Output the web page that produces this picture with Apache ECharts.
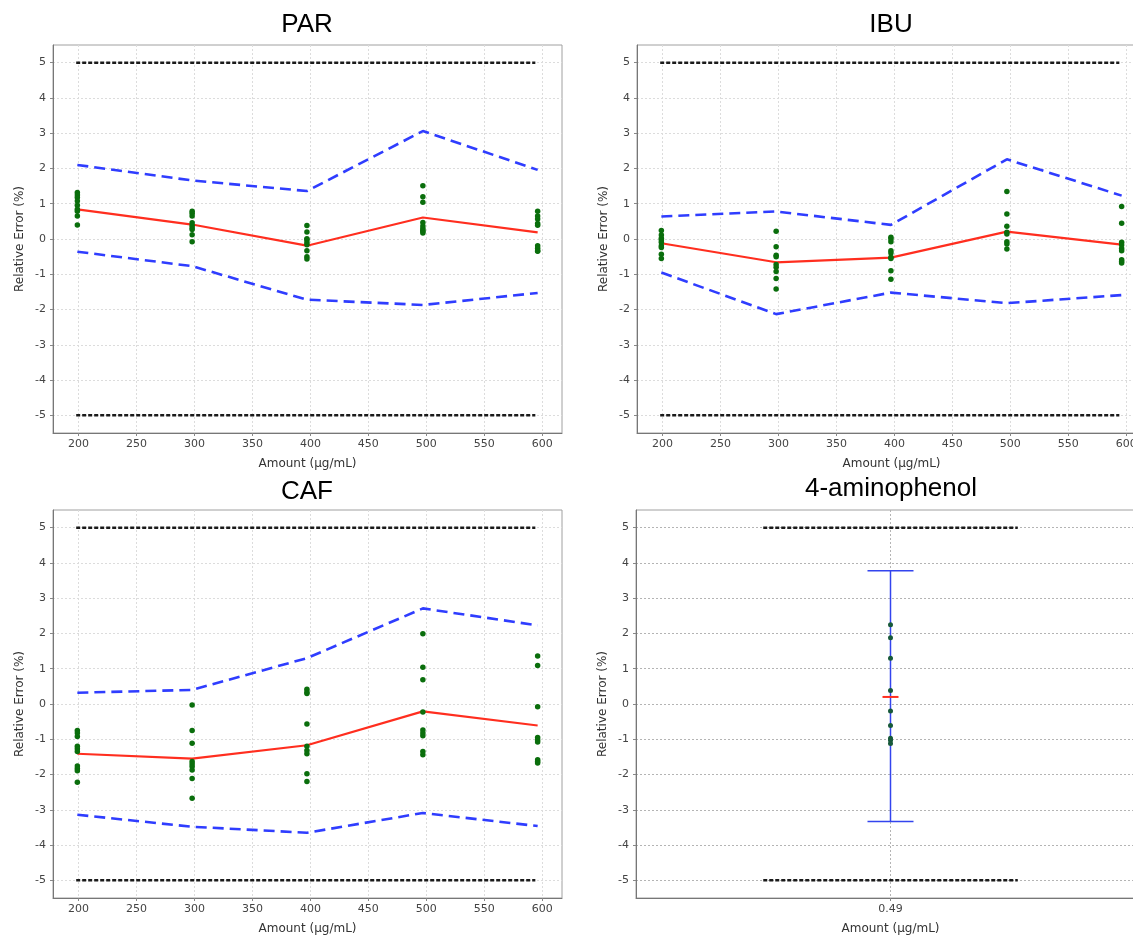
<!DOCTYPE html>
<html><head><meta charset="utf-8">
<script src="https://cdn.jsdelivr.net/npm/echarts@6/dist/echarts.min.js"></script>
<style>html,body{margin:0;padding:0;background:#fff;}#c{width:1133px;height:935px;}</style>
</head><body><div id="c"></div>
<script>
// ---------- data ----------
const titles = ['PAR', 'IBU', 'CAF', '4-aminophenol'];
const amounts = [199, 298, 397, 497, 596];
const xTicks = [200, 250, 300, 350, 400, 450, 500, 550, 600];
const yTicks = [-5, -4, -3, -2, -1, 0, 1, 2, 3, 4, 5];
const limitX = [198, 594];
const limitUp = 5;
const limitLow = -5;

const parUpper = [2.10, 1.66, 1.36, 3.06, 1.96];
const parLower = [-0.36, -0.77, -1.72, -1.87, -1.53];
const parMean  = [0.84, 0.41, -0.19, 0.61, 0.19];
const parPoints = [
  [1.32, 1.25, 1.18, 1.08, 0.96, 0.84, 0.79, 0.65, 0.40],
  [0.79, 0.73, 0.65, 0.46, 0.38, 0.32, 0.27, 0.12, -0.08],
  [0.38, 0.20, 0.01, -0.02, -0.10, -0.16, -0.33, -0.50, -0.57],
  [1.51, 1.20, 1.04, 0.47, 0.37, 0.30, 0.25, 0.21, 0.17],
  [0.79, 0.65, 0.57, 0.44, 0.39, -0.19, -0.26, -0.33, -0.35]
];

const ibuUpper = [0.64, 0.78, 0.40, 2.26, 1.23];
const ibuLower = [-0.95, -2.13, -1.52, -1.82, -1.59];
const ibuMean  = [-0.12, -0.66, -0.53, 0.21, -0.16];
const ibuPoints = [
  [0.24, 0.11, 0.02, -0.03, -0.09, -0.19, -0.24, -0.43, -0.55],
  [0.22, -0.22, -0.46, -0.50, -0.72, -0.80, -0.92, -1.12, -1.42],
  [0.05, 0.00, -0.08, -0.33, -0.40, -0.52, -0.55, -0.90, -1.14],
  [1.35, 0.71, 0.36, 0.19, 0.14, -0.08, -0.14, -0.28],
  [0.92, 0.45, -0.09, -0.17, -0.27, -0.33, -0.59, -0.64, -0.68]
];

const cafUpper = [0.32, 0.40, 1.30, 2.71, 2.23];
const cafLower = [-3.14, -3.48, -3.65, -3.09, -3.46];
const cafMean  = [-1.41, -1.55, -1.17, -0.21, -0.61];
const cafPoints = [
  [-0.75, -0.82, -0.92, -1.20, -1.27, -1.35, -1.76, -1.83, -1.89, -2.22],
  [-0.03, -0.75, -1.11, -1.63, -1.70, -1.77, -1.87, -2.11, -2.67],
  [0.42, 0.34, 0.30, -0.57, -1.20, -1.32, -1.41, -1.98, -2.20],
  [1.99, 1.04, 0.69, -0.23, -0.74, -0.82, -0.90, -1.35, -1.44],
  [1.36, 1.09, -0.08, -0.95, -1.02, -1.08, -1.58, -1.63, -1.67]
];

const apAmount = [0.49];
const apTicks = [0.49];
const apRange = [0.44, 0.54];
const apLimitX = [0.465, 0.515];
const apUpper = [3.78];
const apLower = [-3.33];
const apMean = [0.20];
const apPoints = [2.25, 1.88, 1.30, 0.38, -0.20, -0.61, -0.97, -1.03, -1.12];

// ---------- styling / layout ----------
const FONT = 'DejaVu Sans';
const grids = [
  {left: 53, top: 45}, {left: 637, top: 45},
  {left: 53, top: 510}, {left: 636, top: 510}
].map(g => Object.assign({width: 509, height: 388, show: true, borderColor: '#a0a0a0', borderWidth: 1,
  backgroundColor: '#fff', containLabel: false, outerBoundsMode: 'none'}, g));

function xAxisFor(i, min, max, ticks, gridCol) {
  return {
    type: 'value', gridIndex: i, min: min, max: max,
    name: 'Amount (µg/mL)', nameLocation: 'middle', nameGap: 25,
    nameTextStyle: {fontFamily: FONT, fontSize: 12, color: '#333'},
    axisLine: {show: true, onZero: false, lineStyle: {color: '#777', width: 1}},
    axisTick: {show: true, length: 3, customValues: ticks, lineStyle: {color: '#888'}},
    axisLabel: {show: true, customValues: ticks, margin: 6, fontFamily: FONT, fontSize: 11, color: '#444',
      formatter: v => String(v)},
    splitLine: {show: true, lineStyle: {color: gridCol, type: [2, 2], width: 1}},
    minorTick: {show: false}, minorSplitLine: {show: false}
  };
}
function yAxisFor(i, gridCol) {
  return {
    type: 'value', gridIndex: i, min: -5.5, max: 5.5,
    name: 'Relative Error (%)', nameLocation: 'middle', nameGap: 27, nameRotate: 90,
    nameTextStyle: {fontFamily: FONT, fontSize: 12, color: '#333'},
    axisLine: {show: true, onZero: false, lineStyle: {color: '#777', width: 1}},
    axisTick: {show: true, length: 3, customValues: yTicks, lineStyle: {color: '#888'}},
    axisLabel: {show: true, customValues: yTicks, margin: 7, fontFamily: FONT, fontSize: 11, color: '#444'},
    splitLine: {show: true, lineStyle: {color: gridCol, type: [2, 2], width: 1}}
  };
}

const xAxes = [
  xAxisFor(0, 178, 617, xTicks, '#dcdcdc'),
  xAxisFor(1, 178, 617, xTicks, '#dcdcdc'),
  xAxisFor(2, 178, 617, xTicks, '#dcdcdc'),
  xAxisFor(3, apRange[0], apRange[1], apTicks, '#b4b4b4')
];
const yAxes = [yAxisFor(0, '#dcdcdc'), yAxisFor(1, '#dcdcdc'), yAxisFor(2, '#dcdcdc'), yAxisFor(3, '#b4b4b4')];

const BLUE = '#2f3dff', RED = '#ff2e1f', GREEN = '#0a6e0c';
function limitSeries(i, xs) {
  return [limitUp, limitLow].map(v => ({
    type: 'line', xAxisIndex: i, yAxisIndex: i, symbol: 'none', silent: true, z: 3,
    data: [[xs[0], v], [xs[1], v]],
    lineStyle: {color: '#1a1a1a', width: 2.5, type: [4, 2]}
  }));
}
function panelSeries(i, upper, lower, mean, pts) {
  const line = (vals, color, width, type) => ({
    type: 'line', xAxisIndex: i, yAxisIndex: i, symbol: 'none', silent: true, z: 4,
    data: amounts.map((a, j) => [a, vals[j]]),
    lineStyle: {color: color, width: width, type: type, opacity: 1}
  });
  const scatter = [];
  pts.forEach((grp, j) => grp.forEach(v => scatter.push([amounts[j], v])));
  return [
    ...limitSeries(i, limitX),
    line(upper, BLUE, 2.6, [11, 6]),
    line(lower, BLUE, 2.6, [11, 6]),
    line(mean, RED, 2.2, 'solid'),
    {type: 'scatter', xAxisIndex: i, yAxisIndex: i, symbol: 'circle', symbolSize: 5.5, z: 5,
      itemStyle: {color: GREEN, opacity: 1}, data: scatter}
  ];
}

const apSeries = [
  ...limitSeries(3, apLimitX),
  {type: 'custom', xAxisIndex: 3, yAxisIndex: 3, z: 4,
    data: apAmount.map((a, j) => [a, apLower[j], apUpper[j]]),
    encode: {x: 0, y: [1, 2]},
    renderItem: (params, api) => {
      const x = api.value(0);
      const lo = api.coord([x, api.value(1)]);
      const hi = api.coord([x, api.value(2)]);
      const cap = 23;
      const st = {stroke: '#3344ee', lineWidth: 1.5};
      return {type: 'group', children: [
        {type: 'line', shape: {x1: hi[0], y1: hi[1], x2: lo[0], y2: lo[1]}, style: st},
        {type: 'line', shape: {x1: hi[0] - cap, y1: hi[1], x2: hi[0] + cap, y2: hi[1]}, style: st},
        {type: 'line', shape: {x1: lo[0] - cap, y1: lo[1], x2: lo[0] + cap, y2: lo[1]}, style: st}
      ]};
    }},
  {type: 'scatter', xAxisIndex: 3, yAxisIndex: 3, symbol: 'rect', symbolSize: [16, 2], z: 5,
    itemStyle: {color: RED, opacity: 1}, data: apAmount.map((a, j) => [a, apMean[j]])},
  {type: 'scatter', xAxisIndex: 3, yAxisIndex: 3, symbol: 'circle', symbolSize: 5, z: 6,
    itemStyle: {color: '#17593a', opacity: 1}, data: apPoints.map(v => [apAmount[0], v])}
];

const titlePos = [[307, 25], [891, 25], [307, 492], [891, 489]];

const chart = echarts.init(document.getElementById('c'), null, {renderer: 'canvas'});
chart.setOption({
  animation: false,
  backgroundColor: '#fff',
  grid: grids,
  xAxis: xAxes,
  yAxis: yAxes,
  graphic: titles.map((t, i) => ({
    type: 'text', x: titlePos[i][0], y: titlePos[i][1], z: 10,
    style: {text: t, align: 'center', verticalAlign: 'middle', fontFamily: 'Liberation Sans',
      fontSize: 26, fill: '#000'}
  })),
  series: [
    ...panelSeries(0, parUpper, parLower, parMean, parPoints),
    ...panelSeries(1, ibuUpper, ibuLower, ibuMean, ibuPoints),
    ...panelSeries(2, cafUpper, cafLower, cafMean, cafPoints),
    ...apSeries
  ]
});
</script>
</body></html>
